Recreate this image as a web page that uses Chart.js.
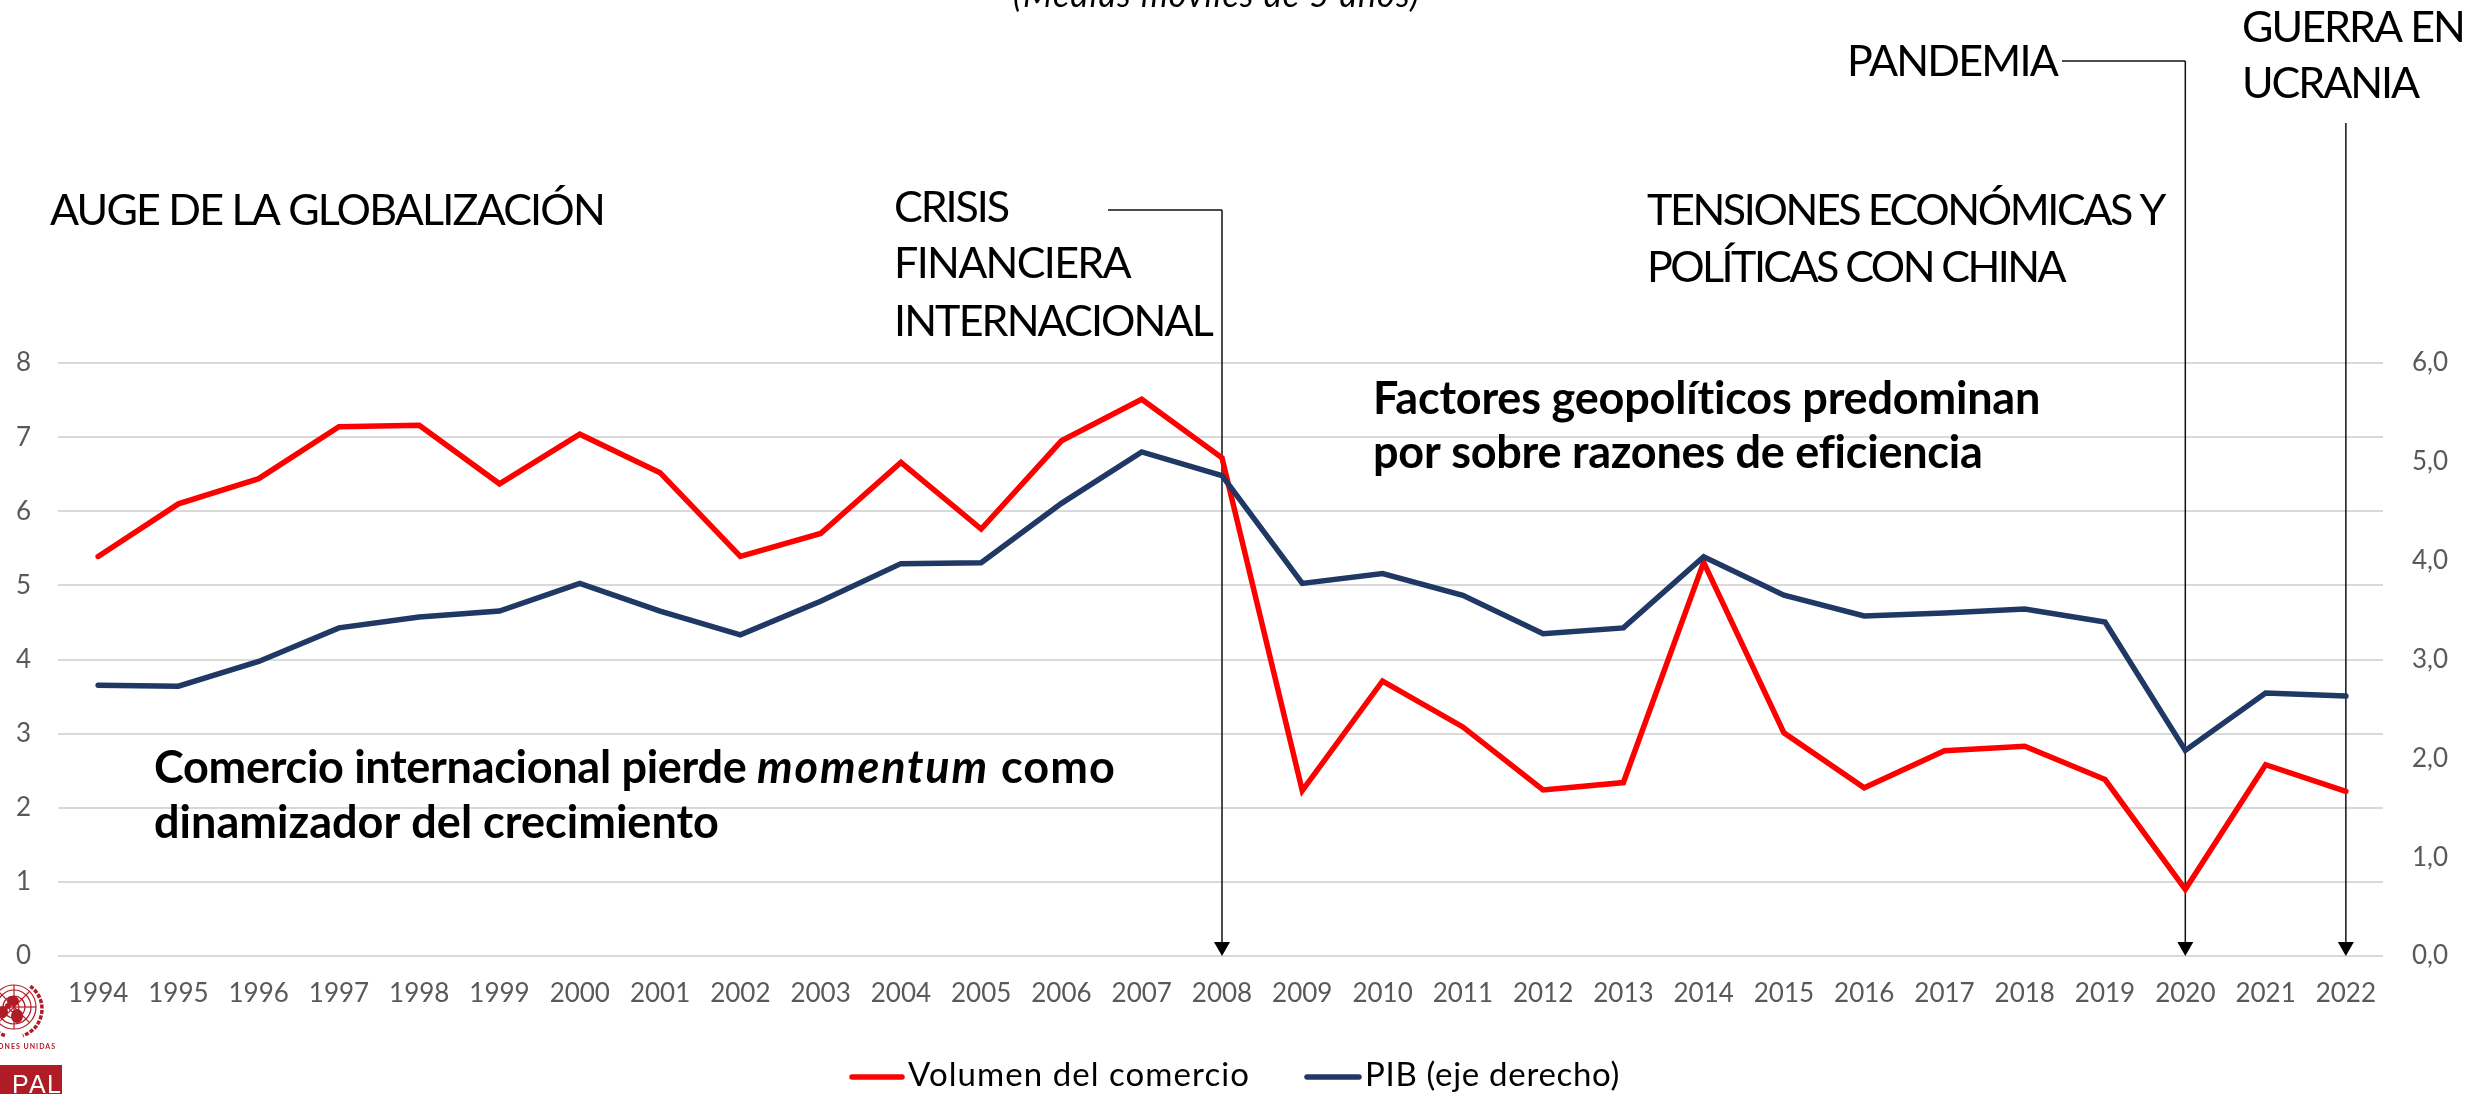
<!DOCTYPE html>
<html lang="es">
<head>
<meta charset="utf-8">
<title>Comercio y PIB</title>
<style>html,body{margin:0;padding:0;background:#fff}canvas{display:block}</style>
<script src="https://cdn.jsdelivr.net/npm/chart.js@4"></script>
</head>
<body>
<canvas id="c" width="2471" height="1094"></canvas>
<script>
const years = ['1994','1995','1996','1997','1998','1999','2000','2001','2002','2003','2004','2005','2006','2007','2008','2009','2010','2011','2012','2013','2014','2015','2016','2017','2018','2019','2020','2021','2022'];
const comercio = [5.39,6.10,6.44,7.14,7.16,6.37,7.04,6.52,5.39,5.70,6.66,5.76,6.95,7.51,6.72,2.23,3.71,3.09,2.24,2.34,5.31,3.01,2.27,2.77,2.83,2.38,0.90,2.58,2.22];
const pib = [2.74,2.73,2.98,3.32,3.43,3.49,3.77,3.49,3.25,3.59,3.97,3.98,4.58,5.10,4.86,3.77,3.87,3.65,3.26,3.32,4.04,3.65,3.44,3.47,3.51,3.38,2.08,2.66,2.63];
const seriesNames = ['Volumen del comercio','PIB (eje derecho)'];
const seriesColors = ['#FF0000','#1F3864'];
const FONT = 'Lato, sans-serif';

function label(ctx, str, x, y, font, width) {
  ctx.save();
  ctx.font = font;
  ctx.fillStyle = '#000';
  ctx.textBaseline = 'alphabetic';
  ctx.textAlign = 'left';
  ctx.letterSpacing = '0px';
  if (width) {
    const natural = ctx.measureText(str).width;
    ctx.letterSpacing = ((width - natural) / str.length).toFixed(3) + 'px';
  }
  const w = ctx.measureText(str).width;
  ctx.fillText(str, x, y);
  ctx.restore();
  return w;
}

function drawArrow(ctx, x, top, bottom) {
  ctx.save();
  ctx.strokeStyle = '#111';
  ctx.lineWidth = 1.5;
  ctx.beginPath(); ctx.moveTo(x, top); ctx.lineTo(x, bottom - 10); ctx.stroke();
  ctx.fillStyle = '#000';
  ctx.beginPath(); ctx.moveTo(x - 8, bottom - 14); ctx.lineTo(x + 8, bottom - 14); ctx.lineTo(x, bottom); ctx.closePath(); ctx.fill();
  ctx.restore();
}

function drawLogo(ctx) {
  const red = '#B01C25', cx = 14, cy = 1007;
  ctx.save();
  ctx.strokeStyle = red; ctx.fillStyle = red; ctx.lineWidth = 1.2;
  [22, 17, 11, 5].forEach(r => { ctx.beginPath(); ctx.arc(cx, cy, r, 0, Math.PI * 2); ctx.stroke(); });
  for (let a = 0; a < 8; a++) {
    const t = a * Math.PI / 4;
    ctx.beginPath(); ctx.moveTo(cx, cy); ctx.lineTo(cx + 22 * Math.cos(t), cy + 22 * Math.sin(t)); ctx.stroke();
  }
  [[13,1001,6,5],[17,1016,6,7],[3,1012,5,6],[8,1006,3,3]].forEach(b => {
    ctx.beginPath(); ctx.ellipse(b[0], b[1], b[2], b[3], 0, 0, Math.PI * 2); ctx.fill();
  });
  ctx.lineWidth = 3.5; ctx.setLineDash([4, 1.5]);
  ctx.beginPath(); ctx.arc(cx, cy + 2, 28, -0.95, 1.25); ctx.stroke();
  ctx.beginPath(); ctx.arc(cx, cy + 2, 28, 1.9, 3.0); ctx.stroke();
  ctx.setLineDash([]);
  ctx.font = 'bold 7px ' + FONT; ctx.textAlign = 'right'; ctx.textBaseline = 'middle';
  ctx.letterSpacing = '1px';
  ctx.fillText('NACIONES UNIDAS', 56, 1047);
  ctx.letterSpacing = '0px';
  ctx.fillRect(0, 1065, 62, 29);
  ctx.fillStyle = '#fff'; ctx.font = '25px "Liberation Sans Narrow", sans-serif'; ctx.textAlign = 'left'; ctx.textBaseline = 'alphabetic';
  ctx.fillText('P', 12, 1093);
  ctx.fillText('A', 29, 1093);
  ctx.fillText('L', 47, 1093);
  ctx.restore();
}

const annotations = {
  id: 'annotations',
  beforeDatasetsDraw(chart) {
    const ctx = chart.ctx, xs = chart.scales.x, ys = chart.scales.y;
    const base = ys.getPixelForValue(0);
    const x08 = xs.getPixelForValue(years.indexOf('2008'));
    const x20 = xs.getPixelForValue(years.indexOf('2020'));
    const x22 = xs.getPixelForValue(years.indexOf('2022'));
    ctx.save();
    ctx.fillStyle = '#fff';
    ctx.fillRect(2383, 355, 8, 606);
    ctx.strokeStyle = '#111'; ctx.lineWidth = 1.5;
    ctx.beginPath(); ctx.moveTo(1108, 210); ctx.lineTo(x08, 210); ctx.stroke();
    ctx.beginPath(); ctx.moveTo(2062, 61); ctx.lineTo(x20, 61); ctx.stroke();
    ctx.restore();
    drawArrow(ctx, x08, 210, base);
    drawArrow(ctx, x20, 61, base);
    drawArrow(ctx, x22, 123, base);
  },
  afterDraw(chart) {
    const ctx = chart.ctx;
    const reg = '43px ' + FONT, bold = 'bold 45px ' + FONT;
    label(ctx, '(Medias móviles de 5 años)', 1013, 7, 'italic 34px ' + FONT, 407);
    label(ctx, 'AUGE DE LA GLOBALIZACIÓN', 50, 225, reg, 554);
    label(ctx, 'CRISIS', 894, 222, reg, 114);
    label(ctx, 'FINANCIERA', 894, 278, reg, 236);
    label(ctx, 'INTERNACIONAL', 894, 336, reg, 318);
    label(ctx, 'PANDEMIA', 1847, 76, reg, 210);
    label(ctx, 'GUERRA EN', 2242, 42, reg, 222);
    label(ctx, 'UCRANIA', 2242, 98, reg, 176);
    label(ctx, 'TENSIONES ECONÓMICAS Y', 1647, 225, reg, 517);
    label(ctx, 'POLÍTICAS CON CHINA', 1647, 282, reg, 417);
    label(ctx, 'Factores geopolíticos predominan', 1373, 414, bold, 668);
    label(ctx, 'por sobre razones de eficiencia', 1373, 468, bold, 609);
    let x = 154;
    x += label(ctx, 'Comercio internacional pierde ', x, 783, bold, 603);
    x += label(ctx, 'momentum', x, 783, 'italic bold 45px ' + FONT, 232);
    label(ctx, ' como', x, 783, bold, 127);
    label(ctx, 'dinamizador del crecimiento', 154, 838, bold, 565);

    const legend = [[849, 908, 342], [1304, 1365, 255]];
    legend.forEach((l, i) => {
      ctx.save();
      ctx.strokeStyle = seriesColors[i]; ctx.lineWidth = 5.5; ctx.lineCap = 'round';
      ctx.beginPath(); ctx.moveTo(l[0] + 3, 1077); ctx.lineTo(l[1] - 6, 1077); ctx.stroke();
      ctx.restore();
      label(ctx, seriesNames[i], l[1], 1086, '33px ' + FONT, l[2]);
    });
    drawLogo(ctx);
  }
};

new Chart(document.getElementById('c'), {
  type: 'line',
  data: {
    labels: years,
    datasets: [
      { label: seriesNames[0], data: comercio, yAxisID: 'y', borderColor: seriesColors[0], backgroundColor: seriesColors[0], order: 2 },
      { label: seriesNames[1], data: pib, yAxisID: 'y1', borderColor: seriesColors[1], backgroundColor: seriesColors[1], order: 1 }
    ]
  },
  options: {
    responsive: false,
    animation: false,
    devicePixelRatio: 1,
    layout: { padding: { top: 363, left: 0, right: 0, bottom: 0 } },
    elements: {
      point: { radius: 0 },
      line: { borderWidth: 5.5, tension: 0, borderCapStyle: 'round', borderJoinStyle: 'miter' }
    },
    plugins: { legend: { display: false }, title: { display: false }, tooltip: { enabled: false } },
    scales: {
      x: {
        offset: true,
        grid: { display: false, drawTicks: false },
        border: { display: false },
        ticks: { autoSkip: false, maxRotation: 0, color: '#595959', font: { family: FONT, size: 26 }, padding: 22 },
        afterFit(s) { s.height = 138; }
      },
      y: {
        min: 0, max: 8,
        grid: { color: '#D9D9D9', lineWidth: 2, drawTicks: false },
        border: { display: false },
        ticks: { stepSize: 1, color: '#595959', font: { family: FONT, size: 26 }, padding: 27 },
        afterFit(s) { s.width = 58; }
      },
      y1: {
        position: 'right',
        min: 0, max: 6,
        grid: { display: false, drawTicks: false },
        border: { display: false },
        ticks: { stepSize: 1, color: '#595959', font: { family: FONT, size: 26 }, padding: 26,
                 callback: v => v.toFixed(1).replace('.', ',') },
        afterFit(s) { s.width = 85; }
      }
    }
  },
  plugins: [annotations]
});
</script>
</body>
</html>
